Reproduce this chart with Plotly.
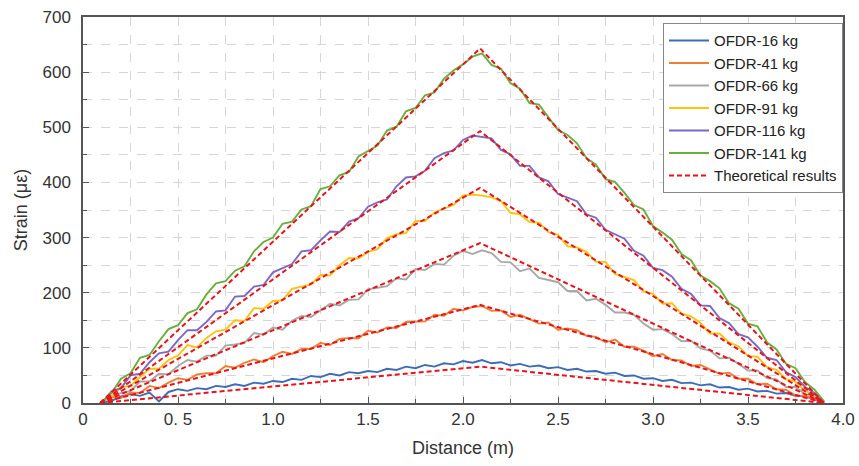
import plotly.graph_objects as go

# sampling positions along the beam (m)
distance = [round(0.10 + 0.05 * i, 2) for i in range(77)]

ofdr_16 = [0, 4, 12, 16, 13, 19, 3, 20, 25, 22, 27, 25, 31, 29, 34, 31, 37, 35, 40, 38,
           44, 42, 49, 47, 53, 50, 56, 54, 58, 56, 62, 60, 66, 63, 69, 66, 72, 70, 76, 73,
           78, 72, 74, 68, 71, 66, 68, 63, 65, 60, 62, 57, 58, 53, 55, 49, 50, 44, 45, 40,
           42, 36, 37, 32, 34, 28, 29, 24, 26, 21, 22, 17, 18, 13, 12, 6, 1]
ofdr_41 = [3, 11, 9, 19, 18, 31, 27, 37, 45, 42, 52, 54, 54, 67, 64, 73, 79, 74, 85, 93,
           89, 98, 98, 109, 105, 116, 118, 117, 131, 128, 137, 136, 147, 148, 148, 160, 158, 171, 168, 174,
           176, 167, 168, 156, 160, 152, 144, 146, 133, 135, 132, 122, 120, 110, 115, 102, 102, 95, 85, 89,
           78, 77, 67, 69, 61, 53, 55, 44, 44, 34, 35, 25, 24, 14, 13, 7, 1]
ofdr_66 = [0, 13, 18, 22, 39, 39, 53, 52, 67, 78, 75, 86, 86, 104, 106, 109, 127, 124, 137, 133,
           149, 158, 156, 168, 180, 177, 187, 188, 206, 209, 212, 226, 224, 243, 241, 252, 251, 267, 276, 270,
           277, 272, 256, 255, 239, 244, 227, 223, 219, 203, 203, 186, 189, 178, 164, 164, 160, 144, 133, 134,
           125, 112, 113, 99, 95, 81, 82, 71, 59, 59, 45, 43, 29, 29, 16, 12, 2]
ofdr_91 = [3, 11, 29, 31, 47, 62, 62, 78, 86, 105, 101, 118, 130, 133, 150, 149, 172, 171, 185, 186,
           207, 211, 215, 232, 231, 250, 263, 262, 274, 279, 299, 306, 308, 330, 330, 346, 353, 359, 376, 378,
           376, 373, 366, 345, 342, 328, 327, 310, 305, 284, 282, 274, 256, 256, 234, 228, 223, 203, 198, 180,
           181, 162, 157, 145, 126, 126, 110, 103, 85, 84, 65, 60, 43, 39, 22, 15, 2]
ofdr_116 = [0, 21, 27, 50, 53, 74, 90, 93, 114, 132, 132, 147, 166, 168, 193, 194, 211, 214, 237, 245,
            252, 275, 277, 295, 311, 310, 329, 335, 356, 364, 369, 393, 409, 411, 421, 444, 453, 458, 477, 485,
            483, 480, 459, 451, 430, 430, 409, 402, 379, 373, 366, 342, 336, 314, 306, 298, 276, 267, 245, 241,
            229, 207, 198, 177, 176, 154, 145, 125, 119, 102, 82, 78, 56, 47, 29, 18, 2]
ofdr_141 = [2, 18, 44, 54, 82, 87, 112, 134, 141, 163, 170, 197, 217, 221, 240, 248, 275, 292, 300, 325,
            329, 351, 357, 388, 393, 413, 419, 447, 457, 467, 494, 501, 529, 535, 558, 563, 588, 603, 614, 628,
            634, 613, 606, 580, 570, 544, 541, 518, 495, 486, 471, 444, 432, 406, 401, 381, 359, 351, 321, 309,
            296, 270, 259, 231, 221, 208, 181, 171, 144, 139, 110, 97, 71, 63, 38, 24, 3]

theory_x = [0.09, 2.09, 3.90]
theory_peaks = [66, 178, 290, 390, 493, 643]

names = ["OFDR-16 kg", "OFDR-41 kg", "OFDR-66 kg", "OFDR-91 kg", "OFDR-116 kg", "OFDR-141 kg"]
series = [ofdr_16, ofdr_41, ofdr_66, ofdr_91, ofdr_116, ofdr_141]
colors = ["#3E6DB5", "#EE7F33", "#A8A8A8", "#FFC20E", "#7C69C2", "#6BAE3F"]

fig = go.Figure()
for name, vals, col in zip(names, series, colors):
    fig.add_trace(go.Scatter(x=distance, y=vals, mode="lines", name=name,
                             line=dict(color=col, width=1.9)))
for k, pk in enumerate(theory_peaks):
    fig.add_trace(go.Scatter(x=theory_x, y=[0, pk, 0], mode="lines",
                             name="Theoretical results", showlegend=(k == 0),
                             line=dict(color="#E8141B", width=2, dash="5px,3px")))

FONT = "Liberation Sans, Arial"
axis_common = dict(
    showline=True, linecolor="#555555", linewidth=1.5, mirror=True,
    ticks="inside", ticklen=6, tickcolor="#555555", tickwidth=1.2,
    showgrid=True, gridcolor="#D6D6D6", gridwidth=1, griddash="dash",
    zeroline=False, automargin=False, ticklabeloverflow="allow",
    tickfont=dict(family=FONT, size=17, color="#333333"),
)

fig.update_xaxes(
    range=[0, 4], tickmode="array",
    tickvals=[0, 0.5, 1.0, 1.5, 2.0, 2.5, 3.0, 3.5, 4.0],
    ticktext=["0", "0. 5", "1.0", "1.5", "2.0", "2.5", "3.0", "3.5", "4.0"],
    minor=dict(dtick=0.25, tick0=0, ticks="inside", ticklen=4, tickcolor="#555555",
               showgrid=True, gridcolor="#D6D6D6", griddash="dash"),
    title=dict(text="Distance (m)", font=dict(family=FONT, size=18, color="#333333"),
               standoff=13),
    **axis_common,
)
fig.update_yaxes(
    range=[0, 700], tickmode="linear", tick0=0, dtick=100,
    minor=dict(dtick=50, tick0=0, ticks="inside", ticklen=4, tickcolor="#555555",
               showgrid=True, gridcolor="#D6D6D6", griddash="dash"),
    ticklabelstandoff=7,
    title=dict(text="Strain (με)", font=dict(family=FONT, size=18, color="#333333"),
               standoff=10),
    **axis_common,
)

fig.update_layout(
    width=859, height=466,
    margin=dict(l=83, r=16, t=17, b=63),
    plot_bgcolor="white", paper_bgcolor="white",
    legend=dict(x=1, xanchor="right", y=0.984, yanchor="top",
                bgcolor="white", bordercolor="#888888", borderwidth=1,
                font=dict(family=FONT, size=15, color="#222222"),
                tracegroupgap=0, itemwidth=40),
)

# remove the default page margin so the figure fills the window exactly
fig.write_html("out.html", config={"displayModeBar": False},
               post_script="document.body.style.margin='0';document.body.style.overflow='hidden';")
